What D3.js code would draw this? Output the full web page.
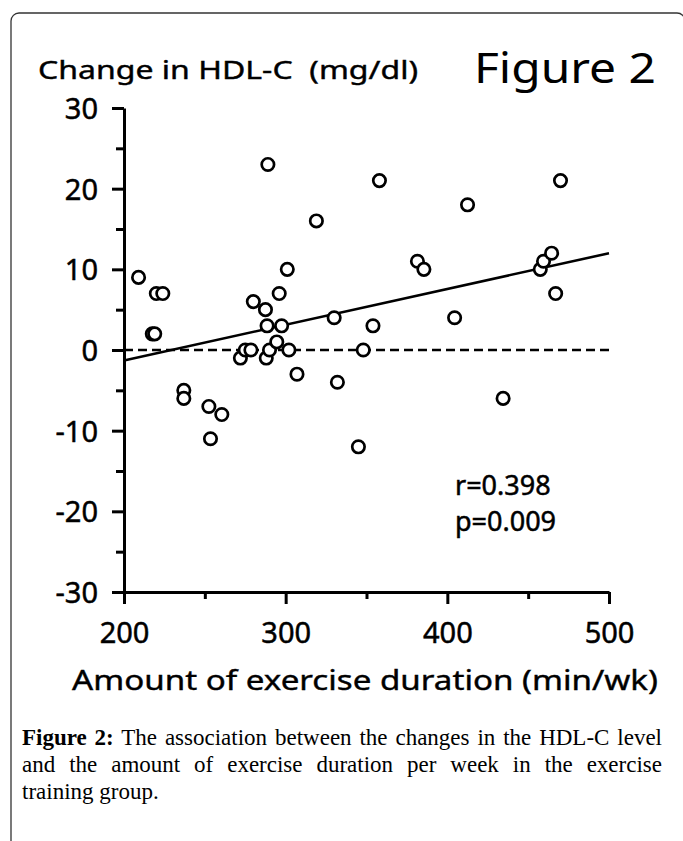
<!DOCTYPE html>
<html lang="en">
<head>
<meta charset="UTF-8">
<title>Figure 2</title>
<style>
  body { margin: 0; background: #fff; }
  svg { display: block; }
</style>
</head>
<body>
<script src="https://d3js.org/d3.v7.min.js"></script>
<script>
// exercise duration (min/wk) and change in HDL-C (mg/dl)
var duration = [209, 220, 224, 217.5, 219, 237, 237, 252.5, 260.5, 253.5,
                272, 275, 278.5, 280, 287.5, 288.5, 288, 290, 289, 296,
                294.5, 297.5, 301, 302, 307, 319, 330, 332, 345, 348,
                354, 358, 381.5, 385.5, 404.5, 412.5, 434.5, 457.5, 459.5, 464.5,
                467, 470];
var hdlChange = [9, 7, 7, 2, 2, -5, -6, -7, -8, -11,
                 -1, 0, 0, 6, 5, 3, -1, 0, 23, 7,
                 1, 3, 10, 0, -3, 16, 4, -4, -12, 0,
                 3, 21, 11, 10, 4, 18, -6, 10, 11, 12,
                 7, 21];
// regression line end points (as drawn)
var fitX = [200, 500];
var fitY = [-1.3, 12];
var xTicks = [200, 300, 400, 500];
var yTicks = [-30, -20, -10, 0, 10, 20, 30];
var stats = ["r=0.398", "p=0.009"];

var font = "'Noto Sans', 'DejaVu Sans', sans-serif";

var svg = d3.select("body").append("svg").attr("width", 683).attr("height", 841);

// frame of the figure
svg.append("rect")
  .attr("x", 11).attr("y", 13).attr("width", 674).attr("height", 900)
  .attr("rx", 8).attr("fill", "none").attr("stroke", "#333").attr("stroke-width", 1.3);

var x = d3.scaleLinear().domain([200, 500]).range([124, 609]);
var y = d3.scaleLinear().domain([-30, 30]).range([592, 108]);

// minor ticks
svg.append("g").attr("transform", "translate(124,0)")
  .call(d3.axisLeft(y).tickValues(d3.range(-25, 30, 10)).tickSize(8).tickFormat(""))
  .call(function(g){ g.select(".domain").remove(); });
svg.append("g").attr("transform", "translate(0,592)")
  .call(d3.axisBottom(x).tickValues([250, 350, 450]).tickSize(7).tickFormat(""))
  .call(function(g){ g.select(".domain").remove(); });

// y axis
var gy = svg.append("g").attr("transform", "translate(124,0)")
  .call(d3.axisLeft(y).tickValues(yTicks).tickSize(12).tickSizeOuter(0).tickPadding(14)
    .tickFormat(function(d){ return String(d); }));
// x axis
var gx = svg.append("g").attr("transform", "translate(0,592)")
  .call(d3.axisBottom(x).tickValues(xTicks).tickSize(12).tickSizeOuter(0).tickPadding(18)
    .tickFormat(function(d){ return String(d); }));

svg.selectAll(".tick line").attr("stroke", "#000").attr("stroke-width", 3);
svg.selectAll(".domain").attr("stroke", "#000").attr("stroke-width", 3);
svg.selectAll(".tick text").attr("font-family", font).attr("font-size", 29)
  .attr("fill", "#000").attr("stroke", "#000").attr("stroke-width", 0.5);
gy.selectAll(".tick text").attr("dy", "0.36em");

// zero reference line
svg.append("line")
  .attr("x1", x(200)).attr("x2", x(500)).attr("y1", y(0)).attr("y2", y(0))
  .attr("stroke", "#000").attr("stroke-width", 2.5).attr("stroke-dasharray", "9,5");

// fitted line
svg.append("line")
  .attr("x1", x(fitX[0])).attr("y1", y(fitY[0]))
  .attr("x2", x(fitX[1])).attr("y2", y(fitY[1]))
  .attr("stroke", "#000").attr("stroke-width", 2.5);

// points
svg.selectAll("circle.pt").data(duration).enter().append("circle")
  .attr("class", "pt")
  .attr("cx", function(d){ return x(d); })
  .attr("cy", function(d, i){ return y(hdlChange[i]); })
  .attr("r", 6.2)
  .attr("fill", "#fff").attr("stroke", "#000").attr("stroke-width", 2.7);

// titles
svg.append("text").attr("x", 38).attr("y", 79)
  .attr("font-family", font).attr("font-size", 25)
  .attr("stroke", "#000").attr("stroke-width", 0.4)
  .style("white-space", "pre")
  .attr("textLength", 380).attr("lengthAdjust", "spacingAndGlyphs")
  .text("Change in HDL-C  (mg/dl)");
svg.append("text").attr("x", 474).attr("y", 83)
  .attr("font-family", font).attr("font-size", 42)
  .attr("textLength", 182).attr("lengthAdjust", "spacingAndGlyphs")
  .text("Figure 2");
svg.append("text").attr("x", 72).attr("y", 690)
  .attr("font-family", font).attr("font-size", 27)
  .attr("stroke", "#000").attr("stroke-width", 0.4)
  .attr("textLength", 586).attr("lengthAdjust", "spacingAndGlyphs")
  .text("Amount of exercise duration (min/wk)");

svg.selectAll("text.stat").data(stats).enter().append("text")
  .attr("class", "stat")
  .attr("x", 455)
  .attr("y", function(d, i){ return 495 + i * 36; })
  .attr("font-family", font).attr("font-size", 27)
  .attr("stroke", "#000").attr("stroke-width", 0.5)
  .text(function(d){ return d; });

// caption, justified by widening the word gaps
var serif = "'Liberation Serif', 'DejaVu Serif', serif";
function justify(t, width) {
  var n = t.text().split(" ").length - 1;
  var w = t.node().getComputedTextLength();
  t.attr("word-spacing", (width - w) / n);
}
var cap1 = svg.append("text").attr("x", 22).attr("y", 745)
  .attr("font-family", serif).attr("font-size", 23);
cap1.append("tspan").attr("font-weight", "bold").text("Figure 2:");
cap1.append("tspan").text(" The association between the changes in the HDL-C level");
justify(cap1, 640);
var cap2 = svg.append("text").attr("x", 22).attr("y", 772)
  .attr("font-family", serif).attr("font-size", 23)
  .text("and the amount of exercise duration per week in the exercise");
justify(cap2, 640);
svg.append("text").attr("x", 22).attr("y", 799)
  .attr("font-family", serif).attr("font-size", 23)
  .text("training group.");
</script>
</body>
</html>
